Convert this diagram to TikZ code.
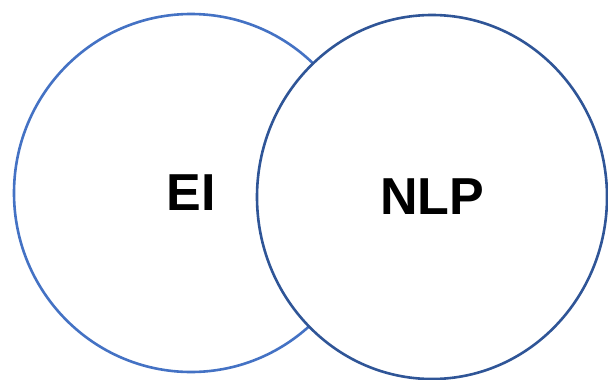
\documentclass[tikz,border=0pt]{standalone}
\usepackage{fontspec}
\setmainfont{Liberation Sans}
\usetikzlibrary{shapes.geometric}
\definecolor{eiblue}{HTML}{4472C4}
\definecolor{nlpblue}{HTML}{2F5597}
\tikzset{
    setcircle/.style={ellipse,draw,line width=2.6pt,fill=white,inner sep=0pt,
        font=\fontsize{52}{56}\selectfont\bfseries}
}
\begin{document}
\begin{tikzpicture}[x=1pt,y=-1pt]
        \useasboundingbox (0,0) rectangle (608,380);
        % 两个相交的集合
        \node[setcircle,draw=eiblue,minimum width=354pt,minimum height=358pt] (ei) at (191,193) {EI};
        \node[setcircle,draw=nlpblue,minimum width=350pt,minimum height=364pt] (nlp) at (432,197) {NLP};
    \end{tikzpicture}
\end{document}
